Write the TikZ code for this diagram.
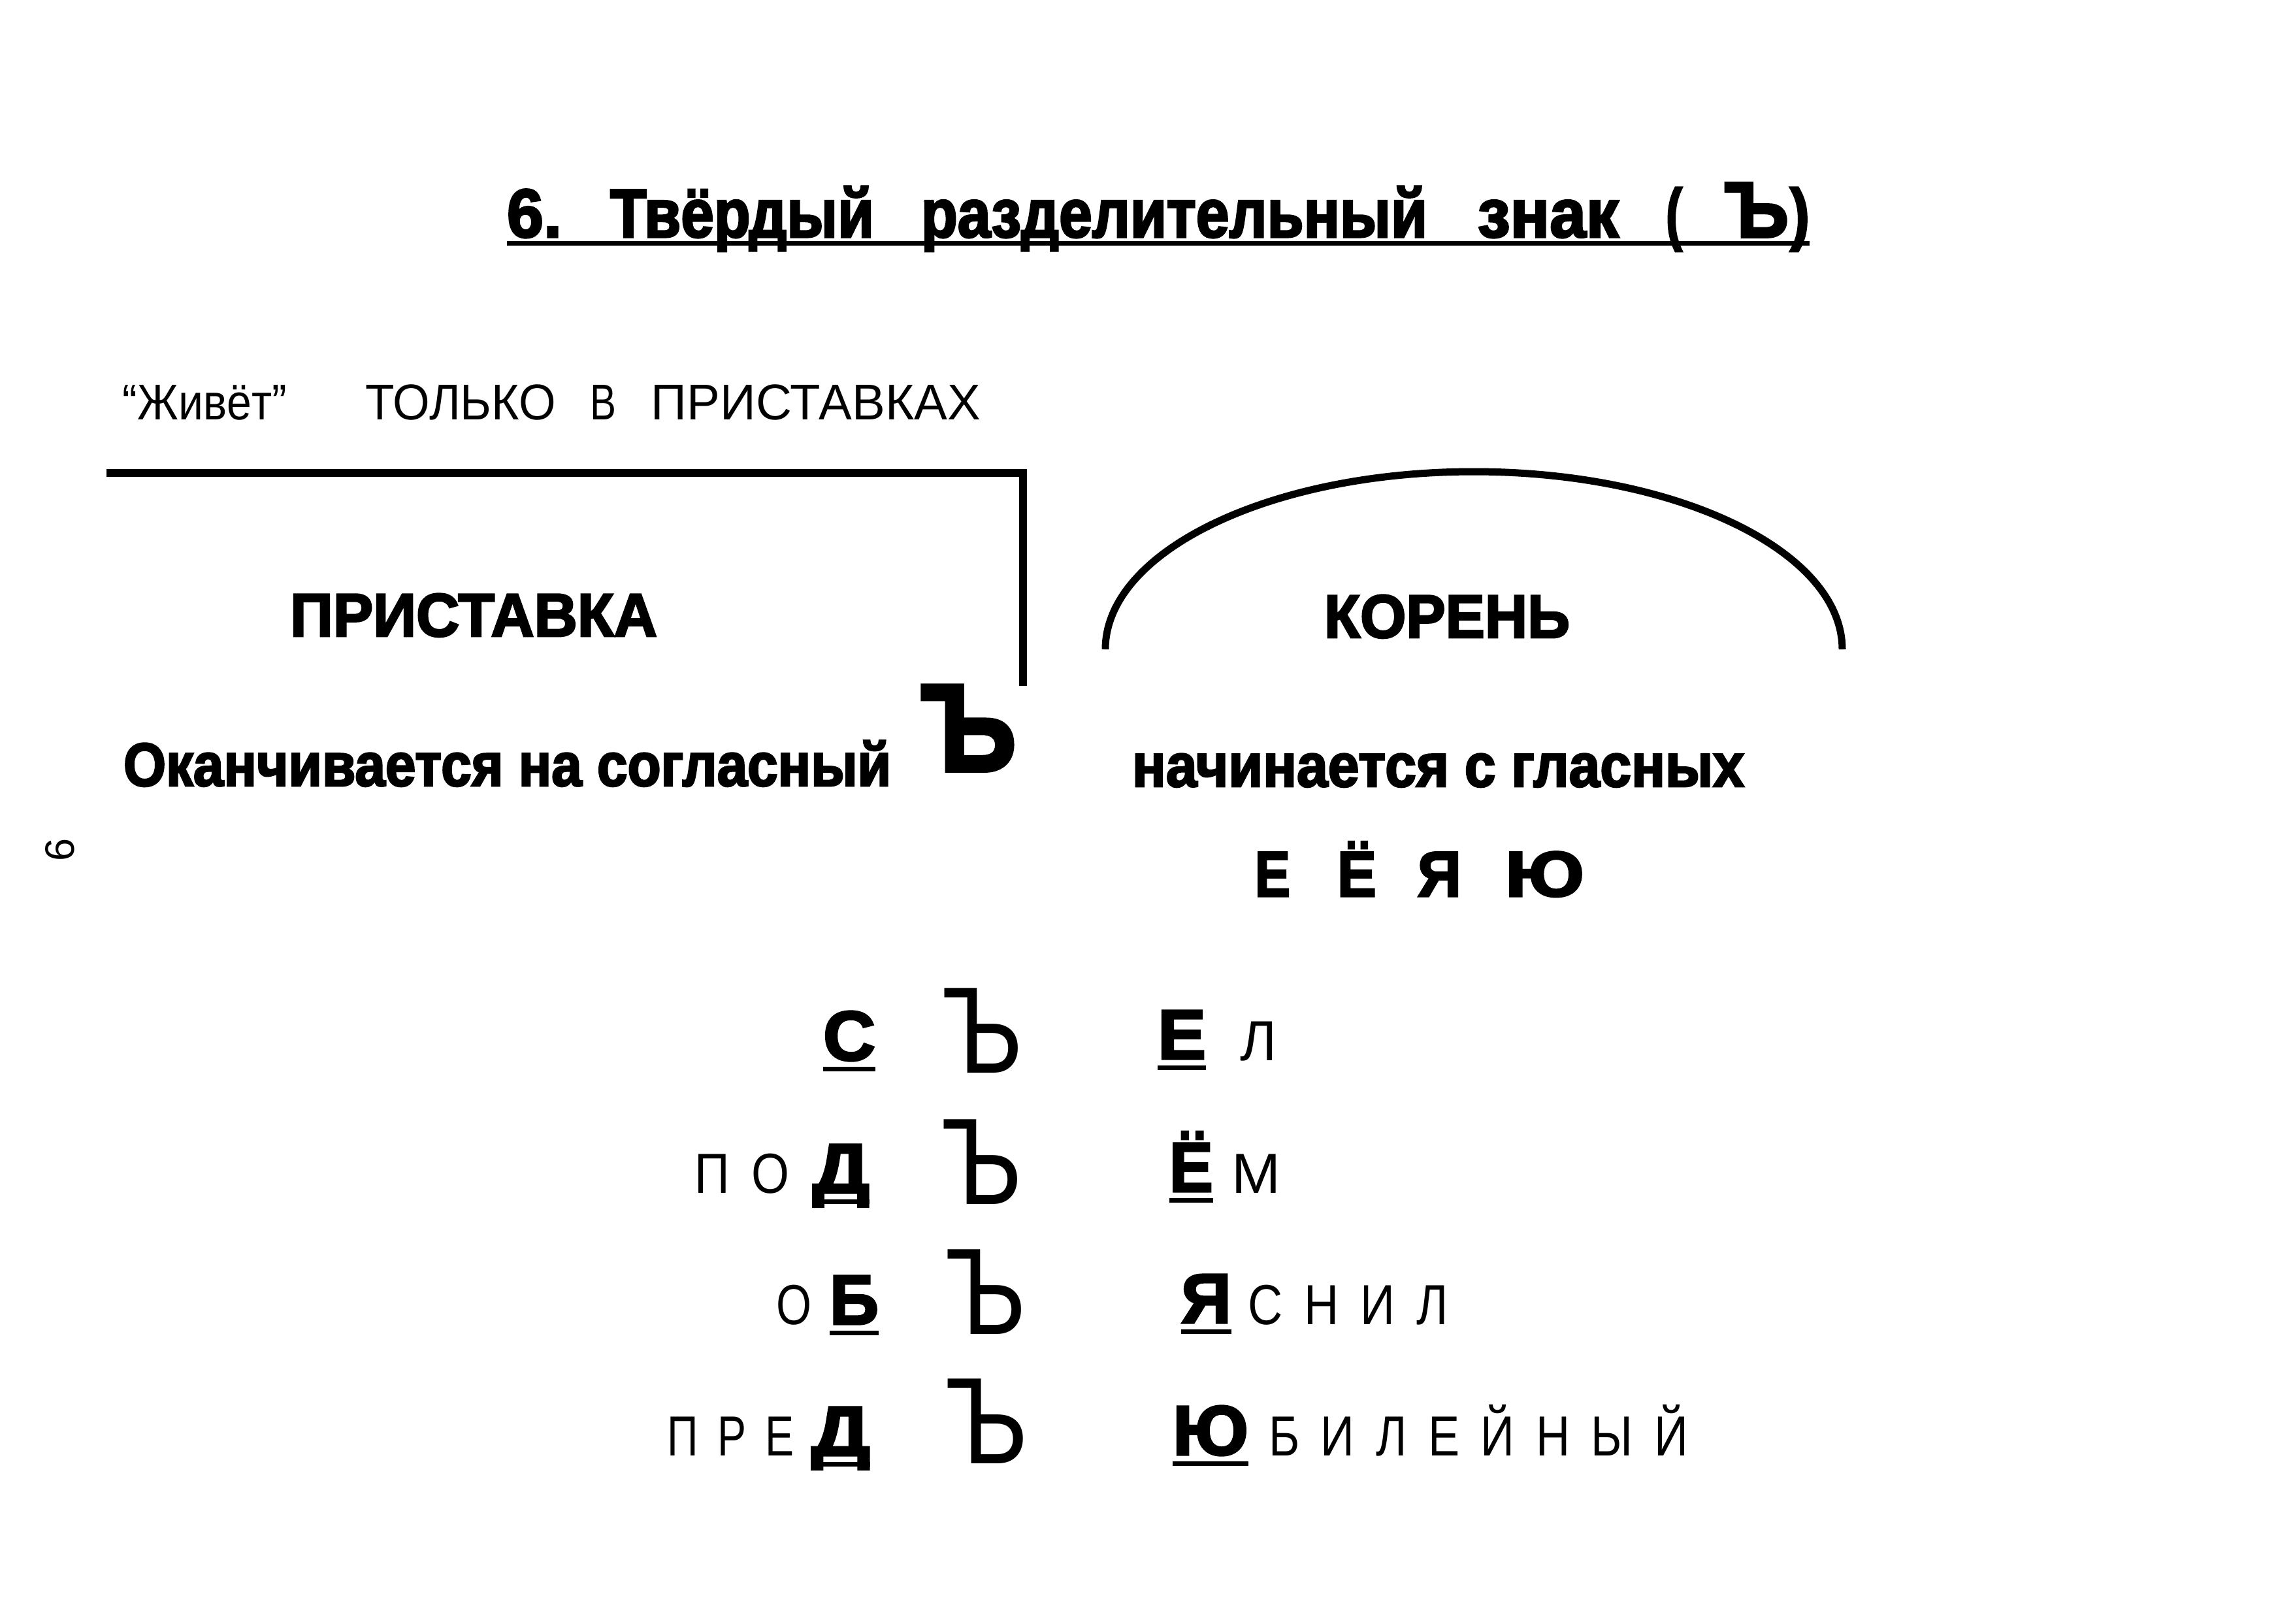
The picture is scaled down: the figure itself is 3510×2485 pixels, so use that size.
\documentclass[tikz,border=0pt]{standalone}
\usepackage{fontspec}
\setmainfont{Liberation Sans}[BoldFeatures={FakeBold=3}]
\usepackage{graphicx}
\newlength\pxu \setlength\pxu{0.2pt}
\newcommand\fitw[2]{\resizebox{#1\pxu}{\height}{#2}}
\newcommand\fith[3]{\resizebox{#1\pxu}{#2\height}{#3}}
\newcommand\wb[3]{\makebox[#1\pxu][l]{\fitw{#2}{#3}}}
\newcommand\gp{\hspace{0.45em}}
\newcommand\fs[1]{\fontsize{#1}{#1}\selectfont}
\tikzset{
  txt/.style={inner sep=0pt, outer sep=0pt, anchor=base west},
  ttl/.style={txt, font=\bfseries\fs{21pt}},
  sub/.style={txt, font=\fs{15.4pt}},
  bld/.style={txt, font=\bfseries\fs{18.7pt}},
  vow/.style={txt, font=\bfseries\fs{19.6pt}},
  rowb/.style={txt, font=\bfseries\fs{21.5pt}},
  rowl/.style={txt, font=\fs{17.3pt}},
  hard/.style={txt, font=\fs{37.7pt}},
  hardb/.style={txt, font=\bfseries\fs{38pt}},
  frame/.style={line width=2.5pt, line join=miter},
  arcline/.style={line width=2.2pt},
  uline/.style={line width=1.4pt},
}
\newcommand\ul[1]{\draw[uline] ([yshift=-2.6pt]#1.base west) -- ([yshift=-2.6pt]#1.base east);}
\begin{document}
\begin{tikzpicture}[x=0.2pt, y=-0.2pt]
\fill[white] (0,0) rectangle (3510,2485);
\useasboundingbox (0,0) rectangle (3510,2485);

% title
\node[ttl] (title) at (776,363) {\wb{158}{84}{6.}\wb{476}{404}{Твёрдый}\wb{852}{775}{разделительный}\wb{288}{216}{знак}\wb{90}{25}{(}\makebox[100\pxu][l]{\fith{98}{1.15}{Ъ}}\fitw{30}{)}};
\draw[line width=1.4pt] ([yshift=-1.8pt]title.base west) -- ([yshift=-1.8pt]title.base east);

% subtitle
\node[sub] (sub) at (188,642) {\wb{372}{251}{“Живёт”}\wb{344}{291}{ТОЛЬКО}\wb{93}{40}{В}\fitw{504}{ПРИСТАВКАХ}};

% prefix frame
\coordinate (fl) at (163,724);
\coordinate (fc) at (1566,724);
\coordinate (fb) at (1566,1050);
\draw[frame] (fl) -- (fc) -- (fb);

% root arc
\coordinate (al) at (1692,994);
\coordinate (at) at (2256,722);
\coordinate (ar) at (2820,994);
\draw[arcline] (al) .. controls (1692,844) and (1944,722) .. (at) .. controls (2568,722) and (2820,844) .. (ar);

\node[bld] (prist) at (444,974) {\fitw{562}{ПРИСТАВКА}};
\node[bld] (okan) at (189,1203) {\fitw{1175}{Оканчивается на согласный}};
\node[hardb] (hb) at (1410,1180) {\fitw{146}{Ъ}};
\node[bld] (koren) at (2027,976) {\fitw{376}{КОРЕНЬ}};
\node[bld] (nach) at (1733,1204) {\fitw{937}{начинается с гласных}};
\node[vow] (vow) at (1921,1372) {\wb{126}{54}{Е}\wb{123}{60}{Ё}\wb{134}{67}{Я}\fitw{121}{Ю}};

% row 1
\node[rowb] (s1) at (1260,1623) {\fitw{80}{С}};
\node[hard] (h1) at (1442,1642) {\fitw{124}{Ъ}};
\node[rowb] (e1) at (1772,1621) {\fitw{74}{Е}};
\node[rowl] (l1) at (1898,1623) {\fitw{56}{Л}};
\ul{s1} \ul{e1}

% row 2
\node[rowl] (p2) at (1063,1826) {\fitw{145}{П\gp О}};
\node[rowb] (d2) at (1244,1826) {\fitw{87}{Д}};
\node[hard] (h2) at (1441,1843) {\fitw{124}{Ъ}};
\node[rowb] (e2) at (1790,1824) {\fitw{67}{Ё}};
\node[rowl] (m2) at (1885,1826) {\fitw{75}{М}};
\ul{d2} \ul{e2}

% row 3
\node[rowl] (o3) at (1188,2027) {\fitw{54}{О}};
\node[rowb] (b3) at (1270,2027) {\fitw{75}{Б}};
\node[hard] (h3) at (1447,2042) {\fitw{124}{Ъ}};
\node[rowb] (ya3) at (1808,2025) {\fitw{77}{Я}};
\node[rowl] (r3) at (1910,2027) {\fitw{307}{С\gp Н\gp И\gp Л}};
\ul{b3} \ul{ya3}

% row 4
\node[rowl] (p4) at (1021,2228) {\fitw{195}{П\gp Р\gp Е}};
\node[rowb] (d4) at (1242,2228) {\fitw{90}{Д}};
\node[hard] (h4) at (1447,2240) {\fitw{127}{Ъ}};
\node[rowb] (yu4) at (1795,2227) {\fitw{116}{Ю}};
\node[rowl] (r4) at (1942,2228) {\fitw{642}{Б\gp И\gp Л\gp Е\gp Й\gp Н\gp Ы\gp Й}};
\ul{d4} \ul{yu4}

% page number
\node[font=\fs{12.6pt}, rotate=90, inner sep=0pt] (pg) at (92,1301) {6};
\end{tikzpicture}
\end{document}
